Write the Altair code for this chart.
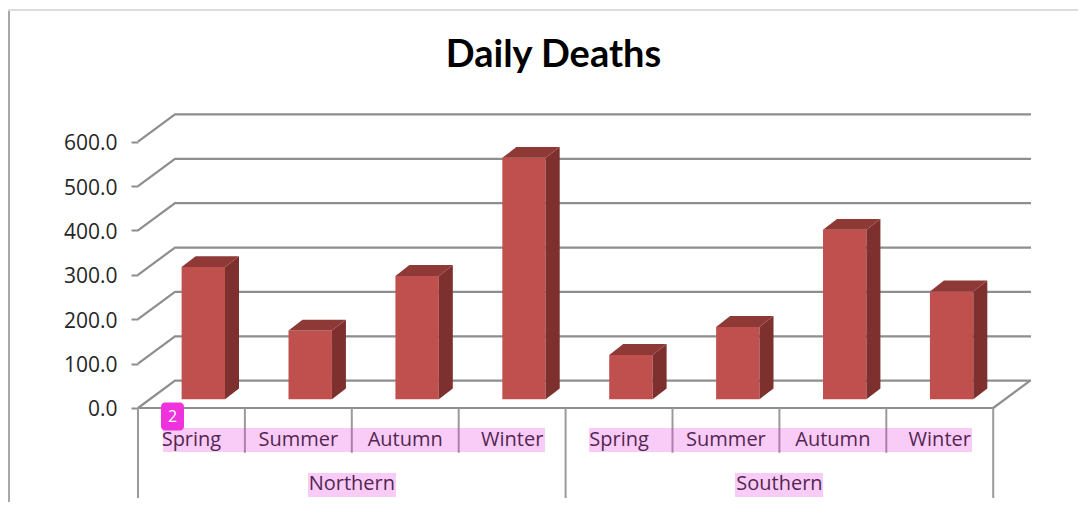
import altair as alt
import pandas as pd

seasons = ["Spring", "Summer", "Autumn", "Winter", "Spring", "Summer", "Autumn", "Winter"]
regions = ["Northern", "Southern"]
deaths = [298, 155, 278, 544, 100, 163, 382, 243]
y_ticks = [0, 100, 200, 300, 400, 500, 600]

# 3-D projection used by the picture, expressed in axis units
SLOT = 106.9          # px per category
PXV = 0.4438          # px per value unit
W, H = 893, 385
X_DOM = [0, W / SLOT]
Y_DOM = [-202.8, 664.7]
WALL_DX, WALL_DY = 37 / SLOT, 61.5
BAR_DX, BAR_DY = 14 / SLOT, 24.5
BAR_BASE = 19.6
BAR_L, BAR_W = 0.408, 43.4 / SLOT
N = len(deaths)

GRID = "#8e8e8e"
FONT = "Open Sans"

xs = alt.Scale(domain=X_DOM, nice=False, zero=False)
ys = alt.Scale(domain=Y_DOM, nice=False, zero=False)
y_axis = alt.Axis(
    values=y_ticks, format=".1f", domain=False, grid=False, tickSize=7, tickWidth=2,
    tickColor=GRID, labelPadding=14, labelOffset=2, labelFont=FONT, labelFontSize=21,
    labelColor="#262626", title=None)
X = alt.X("x:Q", scale=xs, axis=None)
X2 = alt.X2("x2:Q")
Y = alt.Y("y:Q", scale=ys, axis=y_axis, stack=None)
Y2 = alt.Y2("y2:Q")

# back wall + side wall grid lines
grid_rows = []
for v in y_ticks:
    grid_rows += [
        dict(id=v, o=0, x=0, y=v),
        dict(id=v, o=1, x=WALL_DX, y=v + WALL_DY),
        dict(id=v, o=2, x=X_DOM[1], y=v + WALL_DY),
    ]
grid = alt.Chart(pd.DataFrame(grid_rows)).mark_line(color=GRID, strokeWidth=2.2).encode(
    x=X, y=Y, detail="id:N", order="o:Q")

floor_df = pd.DataFrame([
    dict(id="side", o=0, x=N, y=0), dict(id="side", o=1, x=N + WALL_DX, y=WALL_DY),
    dict(id="front", o=0, x=0, y=0), dict(id="front", o=1, x=N, y=0),
])
floor = alt.Chart(floor_df).mark_line(color=GRID, strokeWidth=2.2).encode(
    x=X, y=Y, detail="id:N", order="o:Q")

# category separators
tick_rows = [dict(x=i, y=0, y2=(Y_DOM[0] if i % 4 == 0 else -101)) for i in range(N + 1)]
ticks = alt.Chart(pd.DataFrame(tick_rows)).mark_rule(color="#9a9a9a", strokeWidth=2).encode(
    x=X, y=Y, y2=Y2)

# bars: front, side, top faces
front_rows, side_rows, top_rows = [], [], []
for i, v in enumerate(deaths):
    l, r = i + BAR_L, i + BAR_L + BAR_W
    b, t = BAR_BASE, BAR_BASE + v
    front_rows.append(dict(x=l, x2=r, y=b, y2=t))
    side_rows += [dict(id=i, x=r, y=b, y2=t), dict(id=i, x=r + BAR_DX, y=b + BAR_DY, y2=t + BAR_DY)]
    top_rows += [
        dict(id=i, x=l, y=t, y2=t),
        dict(id=i, x=l + BAR_DX, y=t, y2=t + BAR_DY),
        dict(id=i, x=r, y=t, y2=t + BAR_DY),
        dict(id=i, x=r + BAR_DX, y=t + BAR_DY, y2=t + BAR_DY),
    ]
front = alt.Chart(pd.DataFrame(front_rows)).mark_rect(color="#c0504d").encode(x=X, x2=X2, y=Y, y2=Y2)
side = alt.Chart(pd.DataFrame(side_rows)).mark_area(color="#7d302e", orient="vertical").encode(
    x=X, y=Y, y2=Y2, detail="id:N")
top = alt.Chart(pd.DataFrame(top_rows)).mark_area(color="#8f3937", orient="vertical").encode(
    x=X, y=Y, y2=Y2, detail="id:N")

# category text
LABEL_Y, REGION_Y = -72, -172
labels = alt.Chart(pd.DataFrame({
    "x": [i + 0.5 for i in range(N)], "y": [LABEL_Y] * N, "t": seasons,
})).mark_text(font=FONT, fontSize=20, color="#222222", baseline="middle").encode(
    x=X, y=Y, text="t:N")
region_lab = alt.Chart(pd.DataFrame({
    "x": [2, 6], "y": [REGION_Y] * 2, "t": regions,
})).mark_text(font=FONT, fontSize=20, color="#222222", baseline="middle").encode(
    x=X, y=Y, text="t:N")

# translucent highlighter over the text
def px(p):
    return (p - 138) / SLOT
def py(p):
    return (408 - p) / PXV
hl_df = pd.DataFrame([
    dict(x=px(163), x2=px(545), y=py(428), y2=py(452)),
    dict(x=px(589), x2=px(972), y=py(428), y2=py(452)),
    dict(x=px(308), x2=px(396), y=py(473), y2=py(497)),
    dict(x=px(735), x2=px(823), y=py(473), y2=py(497)),
])
highlights = alt.Chart(hl_df).mark_rect(color="#e733df", opacity=0.25).encode(x=X, x2=X2, y=Y, y2=Y2)

# numbered badge
badge_df = pd.DataFrame([dict(x=px(161), x2=px(184), y=py(402.5), y2=py(430.5))])
badge = alt.Chart(badge_df).mark_rect(color="#ee33dd", cornerRadius=4).encode(x=X, x2=X2, y=Y, y2=Y2)
badge_t = alt.Chart(pd.DataFrame([dict(x=px(172.5), y=py(417), t="2")])).mark_text(
    font=FONT, fontSize=16, color="white", baseline="middle").encode(x=X, y=Y, text="t:N")

# slide frame
frame_left = alt.Chart(pd.DataFrame({"a": [0]})).mark_rule(color="#a8a8a8", strokeWidth=2).encode(
    x=alt.value(-129), y=alt.value(-103), y2=alt.value(389))
frame_top = alt.Chart(pd.DataFrame({"a": [0]})).mark_rule(color="#dcdcdc", strokeWidth=2).encode(
    x=alt.value(-130), x2=alt.value(940), y=alt.value(-103))

chart = alt.layer(
    frame_left, frame_top, grid, floor, ticks, front, side, top,
    labels, region_lab, highlights, badge, badge_t,
).properties(
    width=W, height=H,
    title=alt.TitleParams("Daily Deaths", font="Lato", fontSize=38, fontWeight="bold", color="black",
                          anchor="middle", dx=-31, offset=0, dy=66),
    padding={"left": 130, "top": 105, "right": 47, "bottom": 4},
    autosize=alt.AutoSizeParams(type="none"),
).configure_view(stroke=None)

chart.save("out.html", embed_options={"renderer": "svg", "actions": False})
